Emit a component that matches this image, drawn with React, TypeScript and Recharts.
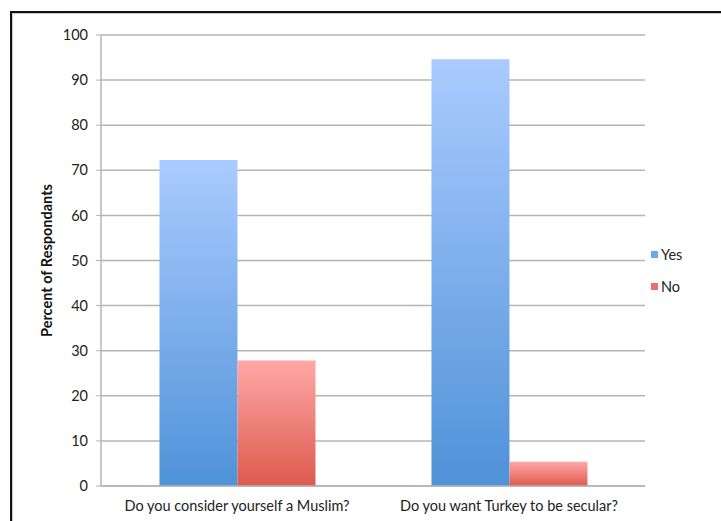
import React from 'react';
import { BarChart, Bar, XAxis, YAxis, CartesianGrid } from 'recharts';

const questions = ['Do you consider yourself a Muslim?', 'Do you want Turkey to be secular?'];
const yesValues = [72.3, 94.6];
const noValues = [27.8, 5.4];
const yTicks = [0, 10, 20, 30, 40, 50, 60, 70, 80, 90, 100];
const edgeTicks = [0, 1, 2];

const data = questions.map((q, i) => ({ question: q, idx: i + 0.5, Yes: yesValues[i], No: noValues[i] }));

const FONT = 'Lato, "Open Sans", sans-serif';
const GRID = '#b4b4b4';

const LegendBox = () => (
  <div style={{ position: 'absolute', left: 651, top: 246, fontFamily: FONT, fontSize: 14.5, color: '#222', lineHeight: '17px' }}>
    {[
      { name: 'Yes', color: '#6fa6ec' },
      { name: 'No', color: '#ec6f6a' },
    ].map((item) => (
      <div key={item.name} style={{ display: 'flex', alignItems: 'center', marginBottom: 15 }}>
        <span style={{ width: 7, height: 7, background: item.color, marginRight: 3, display: 'inline-block' }} />
        {item.name}
      </div>
    ))}
  </div>
);

export default function App() {
  return (
    <div style={{ position: 'fixed', left: 0, top: 0, width: 721, height: 521, background: '#fff', overflow: 'hidden' }}>
      {/* frame */}
      <div
        style={{
          position: 'absolute', left: 10, top: 11, width: 760, height: 560,
          borderLeft: '2px solid #111', borderTop: '2px solid #111',
          boxShadow: 'inset 1px 1px 1px #c8c8c8',
        }}
      />
      <BarChart
        width={721}
        height={521}
        data={data}
        margin={{ top: 35, right: 76, bottom: 0, left: 40 }}
        barCategoryGap="21.5%"
        barGap={0}
        style={{ position: 'absolute', left: 0, top: 0 }}
      >
        <defs>
          <linearGradient id="gradYes" x1="0" y1="0" x2="0" y2="1">
            <stop offset="0%" stopColor="#aacbff" />
            <stop offset="100%" stopColor="#4f92d8" />
          </linearGradient>
          <linearGradient id="gradNo" x1="0" y1="0" x2="0" y2="1">
            <stop offset="0%" stopColor="#ffa8a6" />
            <stop offset="100%" stopColor="#dd5a4e" />
          </linearGradient>
        </defs>
        <CartesianGrid vertical={false} stroke={GRID} strokeWidth={1.5} />
        <XAxis
          xAxisId="edges"
          dataKey="idx"
          type="number"
          domain={[0, 2]}
          ticks={edgeTicks}
          tick={false}
          tickSize={6}
          tickLine={{ stroke: GRID }}
          axisLine={false}
          height={0}
        />
        <XAxis
          dataKey="question"
          tickLine={false}
          axisLine={{ stroke: GRID, strokeWidth: 1.5 }}
          tick={{ fill: '#222', fontSize: 14.5, fontFamily: FONT }}
          tickMargin={9}
          height={35}
        />
        <YAxis
          domain={[0, 100]}
          ticks={yTicks}
          width={61}
          tickSize={5}
          tickLine={{ stroke: GRID }}
          axisLine={{ stroke: GRID, strokeWidth: 1.5 }}
          tick={{ fill: '#222', fontSize: 14.5, fontFamily: FONT }}
          tickMargin={8}
          label={{
            value: 'Percent of Respondants',
            angle: -90,
            position: 'insideLeft',
            offset: 7,
            style: { fill: '#111', fontSize: 14.5, fontWeight: 700, fontFamily: FONT, textAnchor: 'middle' },
          }}
        />
        <Bar dataKey="Yes" fill="url(#gradYes)" isAnimationActive={false} />
        <Bar dataKey="No" fill="url(#gradNo)" isAnimationActive={false} />
      </BarChart>
      <LegendBox />
    </div>
  );
}
